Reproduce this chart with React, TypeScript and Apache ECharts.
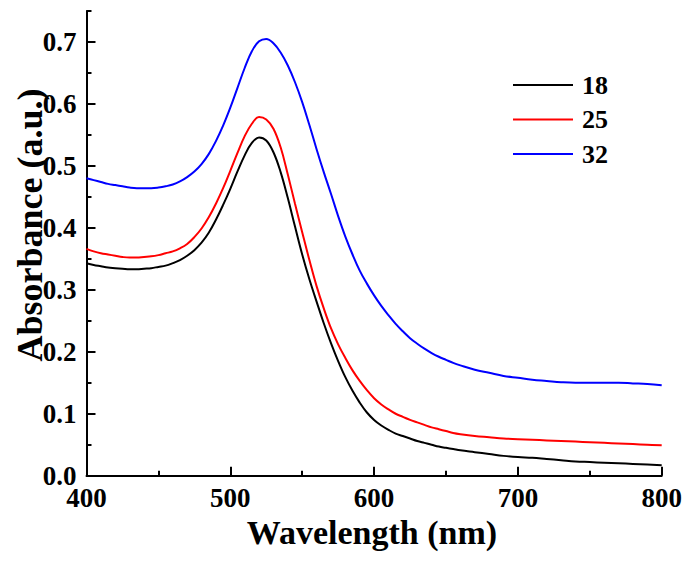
import React, { useEffect, useRef } from "react";
import * as echarts from "echarts";

const wavelengths = [
  400, 405, 410, 415, 420, 425, 430, 435, 440, 445, 450, 455, 460, 465, 470, 475, 480, 485, 490, 495,
  500, 505, 510, 515, 520, 525, 530, 535, 540, 545, 550, 555, 560, 565, 570, 575, 580, 585, 590, 595,
  600, 605, 610, 615, 620, 625, 630, 635, 640, 645, 650, 655, 660,
  670, 680, 690, 700, 710, 720, 730, 740, 750, 760, 770, 780, 790, 800,
];

const s18 = [
  0.343, 0.340, 0.338, 0.336, 0.335, 0.334, 0.333, 0.333, 0.334, 0.335, 0.337, 0.339, 0.343, 0.348, 0.355, 0.364, 0.376, 0.392, 0.413, 0.437,
  0.463, 0.491, 0.517, 0.537, 0.546, 0.541, 0.522, 0.490, 0.448, 0.402, 0.357, 0.317, 0.281, 0.246, 0.214, 0.185, 0.159, 0.137, 0.118, 0.102,
  0.090, 0.081, 0.074, 0.068, 0.064, 0.060, 0.056, 0.053, 0.050, 0.047, 0.045, 0.043, 0.041,
  0.038, 0.035, 0.032, 0.030, 0.029, 0.027, 0.025, 0.023, 0.022, 0.021, 0.020, 0.019, 0.018, 0.017,
];

const s25 = [
  0.366, 0.362, 0.359, 0.357, 0.355, 0.353, 0.352, 0.352, 0.353, 0.354, 0.356, 0.359, 0.362, 0.367, 0.374, 0.385, 0.399, 0.417, 0.439, 0.464,
  0.492, 0.521, 0.548, 0.568, 0.579, 0.575, 0.560, 0.530, 0.486, 0.439, 0.393, 0.348, 0.306, 0.270, 0.238, 0.212, 0.190, 0.170, 0.153, 0.138,
  0.125, 0.115, 0.107, 0.100, 0.095, 0.090, 0.086, 0.082, 0.078, 0.075, 0.072, 0.069, 0.067,
  0.064, 0.062, 0.060, 0.059, 0.058, 0.057, 0.056, 0.055, 0.054, 0.053, 0.052, 0.051, 0.050, 0.049,
];

const s32 = [
  0.480, 0.477, 0.474, 0.471, 0.469, 0.467, 0.465, 0.464, 0.464, 0.464, 0.465, 0.467, 0.470, 0.475, 0.482, 0.491, 0.503, 0.519, 0.540, 0.565,
  0.594, 0.626, 0.658, 0.685, 0.701, 0.705, 0.698, 0.683, 0.662, 0.635, 0.603, 0.566, 0.527, 0.490, 0.455, 0.419, 0.386, 0.357, 0.331, 0.310,
  0.291, 0.274, 0.259, 0.245, 0.233, 0.222, 0.213, 0.205, 0.198, 0.192, 0.187, 0.182, 0.178,
  0.171, 0.166, 0.161, 0.158, 0.155, 0.153, 0.151, 0.150, 0.150, 0.150, 0.150, 0.149, 0.148, 0.146,
];

const seriesNames = ["18", "25", "32"];
const seriesColors = ["#000000", "#ff0000", "#0000ff"];
const seriesValues = [s18, s25, s32];

const yMajor = [0, 0.1, 0.2, 0.3, 0.4, 0.5, 0.6, 0.7];
const yMinor = [0.05, 0.15, 0.25, 0.35, 0.45, 0.55, 0.65, 0.75];

const FONT = "Liberation Serif, Times New Roman, serif";

export default function App() {
  const ref = useRef<HTMLDivElement>(null);
  useEffect(() => {
    if (!ref.current) return;
    const chart = echarts.init(ref.current, null, { renderer: "svg" });
    const axisLine = { show: true, lineStyle: { color: "#000", width: 2 } };
    chart.setOption({
      animation: false,
      backgroundColor: "#fff",
      grid: { left: 86.5, right: 31.3, top: 11, bottom: 87.3 },
      legend: {
        orient: "vertical",
        left: 513,
        top: 72,
        padding: 0,
        icon: "rect",
        itemWidth: 60,
        itemHeight: 2,
        itemGap: 8.5,
        data: seriesNames,
        textStyle: {
          fontFamily: FONT,
          fontWeight: "bold",
          fontSize: 26,
          color: "#000",
          padding: [0, 0, 0, 4],
        },
      },
      xAxis: {
        type: "value",
        min: 400,
        max: 800,
        interval: 100,
        axisLine,
        axisTick: { show: true, inside: true, length: 9, lineStyle: { color: "#000", width: 2 } },
        minorTick: { show: true, splitNumber: 2, length: 5, lineStyle: { color: "#000", width: 2 } },
        splitLine: { show: false },
        axisLabel: {
          color: "#000",
          fontFamily: FONT,
          fontWeight: "bold",
          fontSize: 27,
          margin: 9,
        },
      },
      yAxis: [
        {
          type: "value",
          min: 0,
          max: 0.75,
          interval: 0.05,
          axisLine,
          axisTick: {
            show: true,
            inside: true,
            length: 9,
            customValues: yMajor,
            lineStyle: { color: "#000", width: 2 },
          },
          splitLine: { show: false },
          axisLabel: {
            customValues: yMajor,
            color: "#000",
            fontFamily: FONT,
            fontWeight: "bold",
            fontSize: 27,
            margin: 10,
            formatter: (v: number) => v.toFixed(1),
          },
        },
        {
          type: "value",
          min: 0,
          max: 0.75,
          interval: 0.05,
          position: "left",
          axisLine: { show: false },
          axisTick: {
            show: true,
            inside: true,
            length: 5,
            customValues: yMinor,
            lineStyle: { color: "#000", width: 2 },
          },
          splitLine: { show: false },
          axisLabel: { show: false },
        },
      ],
      graphic: [
        {
          type: "text",
          x: 372,
          y: 532,
          style: {
            text: "Wavelength (nm)",
            fontFamily: FONT,
            fontWeight: "bold",
            fontSize: 34,
            fill: "#000",
            align: "center",
            verticalAlign: "middle",
          },
        },
        {
          type: "text",
          x: 30,
          y: 225,
          rotation: Math.PI / 2,
          style: {
            text: "Absorbance (a.u.)",
            fontFamily: FONT,
            fontWeight: "bold",
            fontSize: 36,
            fill: "#000",
            align: "center",
            verticalAlign: "middle",
          },
        },
      ],
      series: seriesNames.map((name, i) => ({
        name,
        type: "line",
        yAxisIndex: 0,
        smooth: 0.4,
        symbol: "none",
        showSymbol: false,
        color: seriesColors[i],
        lineStyle: { color: seriesColors[i], width: 2 },
        data: wavelengths.map((w, j) => [w, seriesValues[i][j]]),
      })),
    });
    return () => chart.dispose();
  }, []);
  return (
    <div
      ref={ref}
      style={{ position: "fixed", left: 0, top: 0, width: 693, height: 563 }}
    />
  );
}
